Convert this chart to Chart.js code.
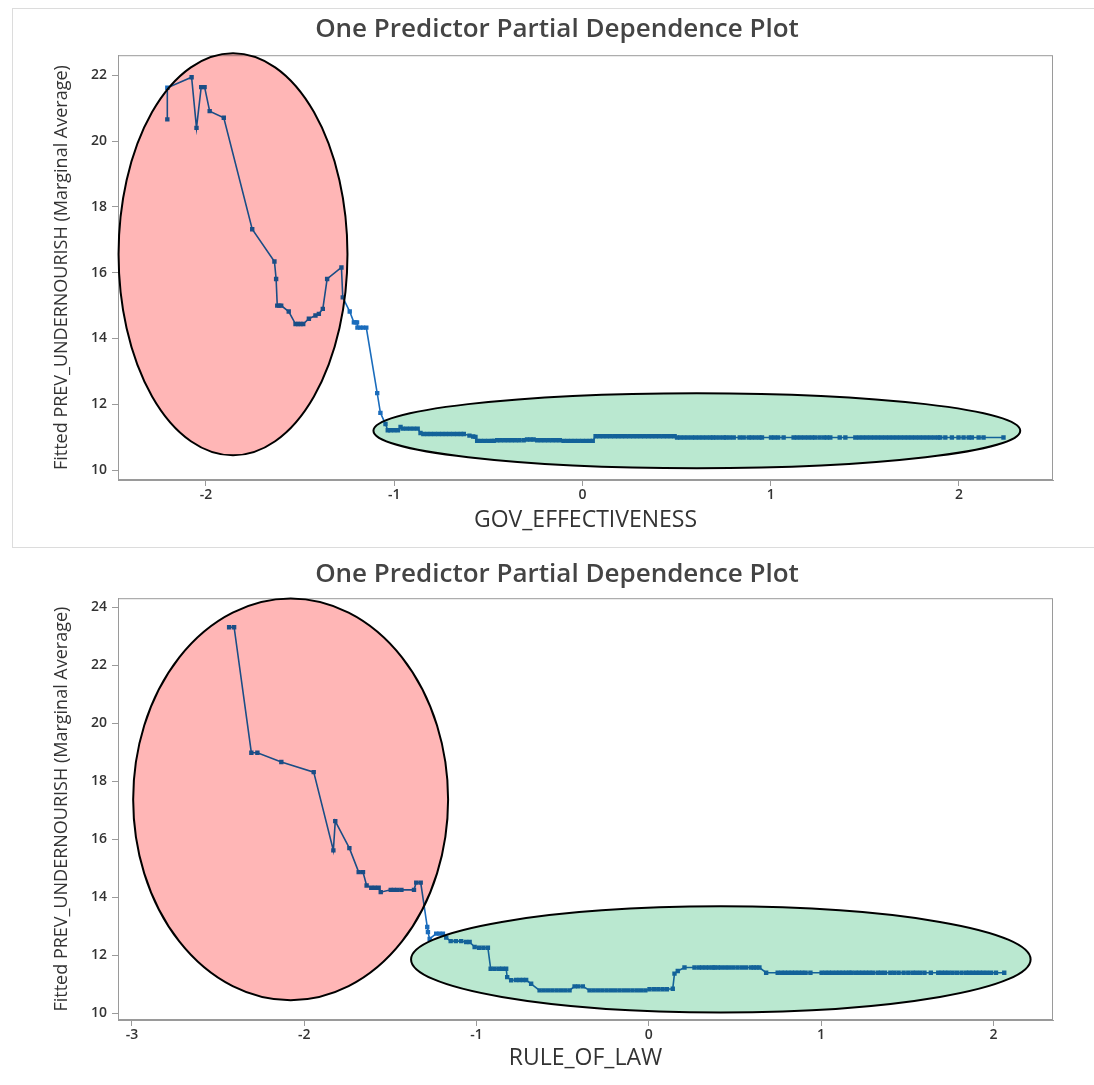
<!DOCTYPE html>
<html>
<head>
<meta charset="utf-8">
<script src="https://cdn.jsdelivr.net/npm/chart.js@4.4.1/dist/chart.umd.min.js"></script>
<style>
  html, body { margin: 0; padding: 0; background: #fff; }
  body { width: 1094px; height: 1085px; position: relative; overflow: hidden; }
  .box { position: absolute; left: 0; width: 1094px; }
  #top { top: 0; height: 547px; }
  #bot { top: 547px; height: 538px; }
  #frame { position: absolute; left: 12px; top: 8px; width: 1090px; height: 538px;
           border-left: 1px solid #dcdcdc; border-top: 1px solid #dcdcdc; border-bottom: 1px solid #dcdcdc;
           pointer-events: none; z-index: 2; }
</style>
</head>
<body>
<div class="box" id="top"><canvas id="c1" width="1094" height="547"></canvas></div>
<div class="box" id="bot"><canvas id="c2" width="1094" height="538"></canvas></div>
<div id="frame"></div>
<script>
// GOV_EFFECTIVENESS partial dependence
const govX = [-2.205, -2.205, -2.076, -2.050, -2.025, -2.007, -1.980, -1.905, -1.754, -1.636,
  -1.627, -1.621, -1.610, -1.600, -1.560, -1.524, -1.510, -1.497, -1.483, -1.453,
  -1.418, -1.400, -1.379, -1.356, -1.280, -1.273, -1.236, -1.214, -1.205, -1.197,
  -1.195, -1.180, -1.165, -1.148, -1.090, -1.073, -1.046, -1.034, -1.020, -1.000,
  -0.980, -0.966, -0.955, -0.935, -0.915, -0.895, -0.875, -0.860, -0.845, -0.825,
  -0.805, -0.785, -0.765, -0.745, -0.725, -0.705, -0.685, -0.665, -0.645, -0.630,
  -0.600, -0.580, -0.568, -0.559, -0.540, -0.520, -0.500, -0.480, -0.471, -0.453,
  -0.435, -0.415, -0.395, -0.375, -0.355, -0.335, -0.312, -0.294, -0.276, -0.259,
  -0.240, -0.220, -0.200, -0.180, -0.160, -0.140, -0.120, -0.100, -0.080, -0.060,
  -0.040, -0.020, 0.000, 0.020, 0.040, 0.055, 0.070, 0.090, 0.110, 0.130,
  0.150, 0.170, 0.190, 0.210, 0.230, 0.250, 0.270, 0.290, 0.310, 0.330,
  0.350, 0.370, 0.390, 0.410, 0.430, 0.450, 0.470, 0.490, 0.503, 0.520,
  0.540, 0.560, 0.582, 0.600, 0.620, 0.640, 0.660, 0.680, 0.694, 0.710,
  0.730, 0.751, 0.763, 0.783, 0.804, 0.836, 0.857, 0.883, 0.900, 0.920,
  0.940, 0.954, 1.002, 1.020, 1.040, 1.069, 1.122, 1.140, 1.160, 1.180,
  1.200, 1.220, 1.237, 1.260, 1.282, 1.299, 1.317, 1.367, 1.397, 1.450,
  1.470, 1.490, 1.510, 1.530, 1.550, 1.570, 1.590, 1.610, 1.630, 1.650,
  1.670, 1.690, 1.710, 1.730, 1.750, 1.770, 1.790, 1.810, 1.830, 1.850,
  1.870, 1.890, 1.901, 1.928, 1.963, 1.998, 2.025, 2.052, 2.069, 2.105,
  2.131, 2.237];
const govY = [20.66, 21.62, 21.94, 20.40, 21.64, 21.64, 20.91, 20.71, 17.32, 16.34,
  15.81, 15.00, 15.00, 15.00, 14.82, 14.44, 14.44, 14.44, 14.44, 14.60,
  14.70, 14.75, 14.90, 15.81, 16.16, 15.25, 14.82, 14.49, 14.49, 14.49,
  14.33, 14.33, 14.33, 14.33, 12.34, 11.74, 11.40, 11.21, 11.21, 11.21,
  11.21, 11.31, 11.26, 11.26, 11.26, 11.26, 11.26, 11.13, 11.10, 11.10,
  11.10, 11.10, 11.10, 11.10, 11.10, 11.10, 11.10, 11.10, 11.10, 11.10,
  11.05, 11.02, 11.01, 10.89, 10.89, 10.89, 10.89, 10.89, 10.89, 10.91,
  10.91, 10.91, 10.91, 10.91, 10.91, 10.91, 10.91, 10.93, 10.93, 10.93,
  10.91, 10.91, 10.91, 10.91, 10.91, 10.91, 10.91, 10.89, 10.89, 10.89,
  10.89, 10.89, 10.89, 10.89, 10.89, 10.89, 11.03, 11.03, 11.03, 11.03,
  11.03, 11.03, 11.03, 11.03, 11.03, 11.03, 11.03, 11.03, 11.03, 11.03,
  11.03, 11.03, 11.03, 11.03, 11.03, 11.03, 11.03, 11.03, 10.99, 10.99,
  10.99, 10.99, 10.99, 10.99, 10.99, 10.99, 10.99, 10.99, 10.99, 10.99,
  10.99, 10.99, 10.99, 10.99, 10.99, 10.99, 10.99, 10.99, 10.99, 10.99,
  10.99, 10.99, 10.99, 10.99, 10.99, 10.99, 10.99, 10.99, 10.99, 10.99,
  10.99, 10.99, 10.99, 10.99, 10.99, 10.99, 10.99, 10.99, 10.99, 10.99,
  10.99, 10.99, 10.99, 10.99, 10.99, 10.99, 10.99, 10.99, 10.99, 10.99,
  10.99, 10.99, 10.99, 10.99, 10.99, 10.99, 10.99, 10.99, 10.99, 10.99,
  10.99, 10.99, 10.99, 10.99, 10.99, 10.99, 10.99, 10.99, 10.99, 10.99,
  10.99, 10.99];

// RULE_OF_LAW partial dependence
const lawX = [-2.436, -2.407, -2.307, -2.272, -2.133, -1.945, -1.831, -1.820, -1.738, -1.684,
  -1.659, -1.638, -1.611, -1.590, -1.568, -1.556, -1.498, -1.480, -1.460, -1.436,
  -1.363, -1.350, -1.324, -1.286, -1.282, -1.272, -1.234, -1.215, -1.195, -1.176,
  -1.150, -1.120, -1.089, -1.060, -1.040, -1.011, -0.985, -0.960, -0.934, -0.918,
  -0.895, -0.870, -0.850, -0.828, -0.822, -0.799, -0.770, -0.750, -0.730, -0.712,
  -0.683, -0.634, -0.610, -0.585, -0.560, -0.535, -0.510, -0.485, -0.460, -0.431,
  -0.410, -0.383, -0.344, -0.320, -0.295, -0.270, -0.245, -0.220, -0.195, -0.170,
  -0.145, -0.120, -0.095, -0.070, -0.045, -0.020, 0.004, 0.030, 0.055, 0.080,
  0.105, 0.139, 0.149, 0.168, 0.207, 0.265, 0.290, 0.310, 0.330, 0.350,
  0.371, 0.381, 0.400, 0.419, 0.443, 0.465, 0.490, 0.515, 0.540, 0.565,
  0.593, 0.609, 0.625, 0.642, 0.681, 0.748, 0.770, 0.790, 0.810, 0.830,
  0.850, 0.870, 0.890, 0.910, 0.938, 1.003, 1.025, 1.045, 1.065, 1.087,
  1.106, 1.125, 1.145, 1.164, 1.177, 1.200, 1.220, 1.240, 1.260, 1.280,
  1.300, 1.328, 1.348, 1.371, 1.402, 1.425, 1.450, 1.479, 1.506, 1.531,
  1.551, 1.575, 1.600, 1.637, 1.680, 1.700, 1.720, 1.740, 1.763, 1.788,
  1.815, 1.841, 1.860, 1.880, 1.900, 1.920, 1.940, 1.962, 1.986, 2.015,
  2.063];
const lawY = [23.31, 23.31, 18.98, 18.98, 18.66, 18.31, 15.61, 16.62, 15.69, 14.86,
  14.86, 14.40, 14.32, 14.32, 14.32, 14.17, 14.25, 14.25, 14.25, 14.25,
  14.25, 14.50, 14.50, 12.97, 12.79, 12.56, 12.74, 12.74, 12.74, 12.60,
  12.48, 12.48, 12.48, 12.45, 12.45, 12.28, 12.25, 12.25, 12.25, 11.53,
  11.53, 11.53, 11.53, 11.53, 11.24, 11.13, 11.14, 11.14, 11.14, 11.14,
  11.01, 10.78, 10.78, 10.78, 10.78, 10.78, 10.78, 10.78, 10.78, 10.92,
  10.92, 10.92, 10.78, 10.78, 10.78, 10.78, 10.78, 10.78, 10.78, 10.78,
  10.78, 10.78, 10.78, 10.78, 10.78, 10.78, 10.82, 10.82, 10.82, 10.82,
  10.82, 10.84, 11.36, 11.45, 11.57, 11.57, 11.57, 11.57, 11.57, 11.57,
  11.57, 11.57, 11.57, 11.57, 11.57, 11.57, 11.57, 11.57, 11.57, 11.57,
  11.57, 11.57, 11.57, 11.57, 11.39, 11.39, 11.39, 11.39, 11.39, 11.39,
  11.39, 11.39, 11.39, 11.39, 11.39, 11.39, 11.39, 11.39, 11.39, 11.39,
  11.39, 11.39, 11.39, 11.39, 11.39, 11.39, 11.39, 11.39, 11.39, 11.39,
  11.39, 11.39, 11.39, 11.39, 11.39, 11.39, 11.39, 11.39, 11.39, 11.39,
  11.39, 11.39, 11.39, 11.39, 11.39, 11.39, 11.39, 11.39, 11.39, 11.39,
  11.39, 11.39, 11.39, 11.39, 11.39, 11.39, 11.39, 11.39, 11.39, 11.39,
  11.39];

const govXTicks = [-2, -1, 0, 1, 2];
const govYTicks = [10, 12, 14, 16, 18, 20, 22];
const lawXTicks = [-3, -2, -1, 0, 1, 2];
const lawYTicks = [10, 12, 14, 16, 18, 20, 22, 24];

// highlight ellipses, in data units (centre and radii)
const govEllipses = [
  { cx: -1.856, cy: 16.56, rx: 0.608, ry: 6.11, fill: '#ffb6b6' },
  { cx: 0.608, cy: 11.20, rx: 1.718, ry: 1.14, fill: '#bae8d0' }
];
const lawEllipses = [
  { cx: -2.079, cy: 17.37, rx: 0.914, ry: 6.93, fill: '#ffb6b6' },
  { cx: 0.418, cy: 11.85, rx: 1.798, ry: 1.83, fill: '#bae8d0' }
];

const TITLE = 'One Predictor Partial Dependence Plot';
const YTITLE = 'Fitted PREV_UNDERNOURISH (Marginal Average)';
const FONT = "'Open Sans', 'Noto Sans', sans-serif";
const LINE = '#1a6cbc';
const AXIS = '#9a9a9a';

function chartPlugins(ellipses) {
  return [{
    id: 'bgFrame',
    beforeDraw(chart) {
      const ctx = chart.ctx;
      ctx.save();
      ctx.fillStyle = '#fff';
      ctx.fillRect(0, 0, chart.width, chart.height);
      ctx.restore();
    },
    beforeDatasetsDraw(chart) {
      const { ctx, chartArea: a } = chart;
      ctx.save();
      ctx.strokeStyle = AXIS;
      ctx.lineWidth = 1;
      ctx.strokeRect(a.left + 0.5, a.top + 0.5, a.right - a.left - 1, a.bottom - a.top - 1);
      ctx.restore();
    },
    afterDatasetsDraw(chart) {
      const { ctx, scales: { x, y } } = chart;
      ellipses.forEach(e => {
        const cx = x.getPixelForValue(e.cx), cy = y.getPixelForValue(e.cy);
        const rx = Math.abs(x.getPixelForValue(e.cx + e.rx) - cx);
        const ry = Math.abs(y.getPixelForValue(e.cy + e.ry) - cy);
        ctx.save();
        ctx.beginPath();
        ctx.ellipse(cx, cy, rx, ry, 0, 0, Math.PI * 2);
        ctx.globalCompositeOperation = 'multiply';
        ctx.fillStyle = e.fill;
        ctx.fill();
        ctx.globalCompositeOperation = 'source-over';
        ctx.lineWidth = 2;
        ctx.strokeStyle = '#000';
        ctx.stroke();
        ctx.restore();
      });
    }
  }];
}

function makeChart(id, xs, ys, o) {
  return new Chart(document.getElementById(id), {
    type: 'scatter',
    data: {
      datasets: [{
        data: xs.map((v, i) => ({ x: v, y: ys[i] })),
        showLine: true,
        borderColor: LINE,
        backgroundColor: LINE,
        borderWidth: 1.6,
        pointStyle: 'rect',
        pointRadius: 3.1,
        pointBorderWidth: 0,
        pointHoverRadius: 0
      }]
    },
    options: {
      responsive: false,
      animation: false,
      devicePixelRatio: 1,
      events: [],
      layout: { padding: { left: 20, right: 0, top: 0, bottom: 0 } },
      plugins: {
        legend: { display: false },
        tooltip: { enabled: false },
        title: {
          display: true, text: TITLE, color: '#444',
          font: { family: FONT, size: 26, weight: '600' },
          padding: { top: o.titleTop, bottom: o.titleBottom }
        }
      },
      scales: {
        x: {
          type: 'linear', min: o.xMin, max: o.xMax,
          afterBuildTicks: s => { s.ticks = o.xTicks.map(v => ({ value: v })); },
          afterFit: s => { s.height = o.xHeight; },
          grid: { drawOnChartArea: false, drawTicks: true, tickLength: 6, color: AXIS },
          border: { color: AXIS },
          ticks: { color: '#333', font: { family: FONT, size: 14, weight: '600' }, padding: 1, maxRotation: 0 },
          title: { display: true, text: o.xTitle, color: '#333', font: { family: FONT, size: 23 }, padding: { top: 0, bottom: 13 } }
        },
        y: {
          type: 'linear', min: o.yMin, max: o.yMax,
          afterBuildTicks: s => { s.ticks = o.yTicks.map(v => ({ value: v })); },
          afterFit: s => { s.width = 98; },
          grid: { drawOnChartArea: false, drawTicks: true, tickLength: 6, color: AXIS },
          border: { color: AXIS },
          ticks: { color: '#333', font: { family: FONT, size: 14, weight: '600' }, padding: 5 },
          title: { display: true, text: YTITLE, color: '#333', font: { family: FONT, size: 18 }, padding: { top: 31, bottom: 0 } }
        },
        // empty right-hand margin so the plot ends where the reference frame ends
        yMargin: {
          type: 'linear', position: 'right', min: 0, max: 1,
          afterFit: s => { s.width = 41; },
          grid: { display: false }, border: { display: false }, ticks: { display: false }
        }
      }
    },
    plugins: chartPlugins(o.ellipses)
  });
}

makeChart('c1', govX, govY, {
  xMin: -2.467, xMax: 2.50, yMin: 9.70, yMax: 22.61,
  xTicks: govXTicks, yTicks: govYTicks, xTitle: 'GOV_EFFECTIVENESS',
  xHeight: 67, titleTop: 14, titleBottom: 10, ellipses: govEllipses
});
makeChart('c2', lawX, lawY, {
  xMin: -3.081, xMax: 2.346, yMin: 9.76, yMax: 24.31,
  xTicks: lawXTicks, yTicks: lawYTicks, xTitle: 'RULE_OF_LAW',
  xHeight: 65, titleTop: 12, titleBottom: 8, ellipses: lawEllipses
});
</script>
</body>
</html>
